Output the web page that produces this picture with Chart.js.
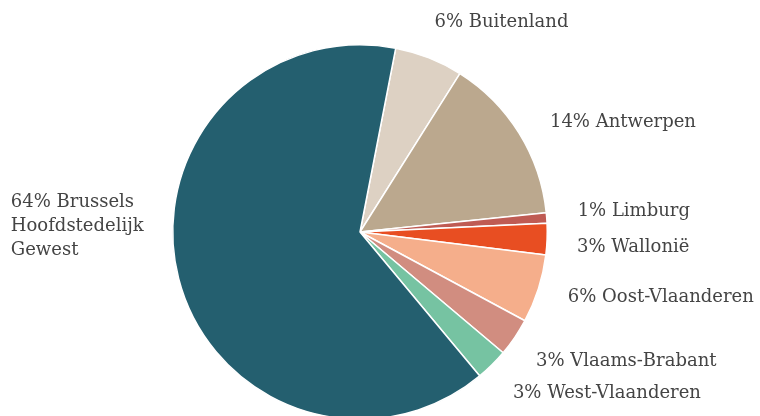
<!DOCTYPE html>
<html>
<head>
<meta charset="utf-8">
<script src="https://cdn.jsdelivr.net/npm/chart.js@4.4.1/dist/chart.umd.min.js"></script>
<style>
  html, body { margin: 0; padding: 0; background: #fff; overflow: hidden; }
  #wrap { width: 760px; height: 416px; overflow: hidden; }
</style>
</head>
<body>
<div id="wrap"><canvas id="myChart" width="760" height="464"></canvas></div>
<script>
// regions, clockwise from the top
const regions = [
  ['Buitenland'],
  ['Antwerpen'],
  ['Limburg'],
  ['Wallonië'],
  ['Oost-Vlaanderen'],
  ['Vlaams-Brabant'],
  ['West-Vlaanderen'],
  ['Brussels', 'Hoofdstedelijk', 'Gewest']
];
const shares = [5.9, 14.4, 0.9, 2.7, 5.9, 3.3, 2.8, 64.1];
const colors = ['#ddd1c3', '#bba88e', '#bf5b53', '#e84e22', '#f5ae8b', '#d18d80', '#76c3a2', '#245f6f'];

// small tweaks so labels don't collide (dx, dy in px)
const labelNudge = [[-7, -4], [2, 7], [-3, -4], [-4, 7], [-3, -2], [-7, 5], [-3, 4], [-2, -61]];

const outsideLabels = {
  id: 'outsideLabels',
  afterDraw(chart) {
    const ctx = chart.ctx;
    const meta = chart.getDatasetMeta(0);
    ctx.save();
    ctx.font = '18px "DejaVu Serif"';
    ctx.fillStyle = '#444';
    ctx.textBaseline = 'middle';
    meta.data.forEach((arc, i) => {
      const p = arc.getProps(['x', 'y', 'startAngle', 'endAngle', 'outerRadius'], true);
      const mid = (p.startAngle + p.endAngle) / 2;
      const r = p.outerRadius + 34;
      const x = p.x + Math.cos(mid) * r + labelNudge[i][0];
      const y = p.y + Math.sin(mid) * r + labelNudge[i][1];
      const right = Math.cos(mid) >= 0;
      const lines = regions[i].slice();
      lines[0] = Math.round(shares[i]) + '% ' + lines[0];
      const lh = 24;
      const y0 = y - (lines.length - 1) * lh / 2;
      const w = Math.max(...lines.map(l => ctx.measureText(l).width));
      ctx.textAlign = 'left';
      lines.forEach((t, k) => {
        // left side: block is left aligned, right edge at x
        ctx.fillText(t, right ? x : x - w, y0 + k * lh);
      });
    });
    ctx.restore();
  }
};

new Chart(document.getElementById('myChart'), {
  type: 'pie',
  data: {
    labels: regions.map(r => r.join(' ')),
    datasets: [{
      data: shares,
      backgroundColor: colors,
      borderColor: '#ffffff',
      borderWidth: 1.5
    }]
  },
  options: {
    responsive: false,
    devicePixelRatio: 1,
    rotation: 11,
    animation: false,
    layout: { padding: { top: 44, bottom: 44, left: 0, right: 40 } },
    plugins: {
      legend: { display: false },
      tooltip: { enabled: false }
    }
  },
  plugins: [outsideLabels]
});
</script>
</body>
</html>
